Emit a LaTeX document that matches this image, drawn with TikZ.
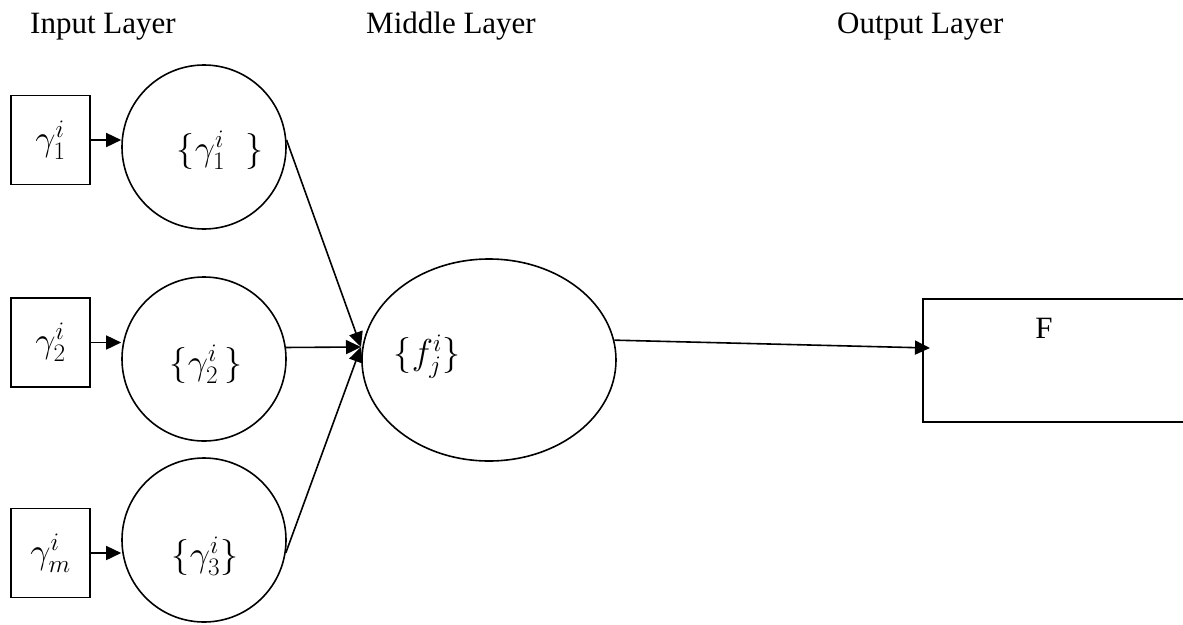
\RequirePackage{fix-cm}
\documentclass[tikz,border=0pt]{standalone}
\usepackage{fontspec}
\setmainfont{Liberation Serif}
\usetikzlibrary{shapes.geometric,arrows.meta}
\begin{document}
\begin{tikzpicture}[x=1pt,y=-1pt,
  every node/.style={font=\fontsize{31}{37}\selectfont, inner sep=0pt},
  mathtext/.style={font=\fontsize{36}{42}\selectfont},
  inbox/.style={draw, line width=1.6pt, minimum width=79pt, minimum height=89pt, mathtext},
  neuron/.style={draw, circle, line width=1.6pt, minimum size=164pt},
  link/.style={line width=1.6pt, -{Triangle[length=15pt,width=14pt]}}]
\useasboundingbox (0,0) rectangle (1183,624);
\clip (0,0) rectangle (1183,624);
% layer titles
\node[anchor=base west] (tin) at (30,33) {Input Layer};
\node[anchor=base west] (tmid) at (366,33) {Middle Layer};
\node[anchor=base west] (tout) at (837,33) {Output Layer};
% input boxes
\node[inbox] (b1) at (50.5,140) {$\gamma^{i}_{1}$};
\node[inbox] (b2) at (50.5,342.5) {$\gamma^{i}_{2}$};
\node[inbox] (b3) at (50.5,553) {$\gamma^{i}_{m}$};
% input neurons
\node[neuron] (c1) at (204,147) {};
\node[neuron] (c2) at (204,359) {};
\node[neuron] (c3) at (204,540) {};
\node[mathtext] (l1) at (220,150) {$\{\gamma^{i}_{1}\hspace{20pt}\}$};
\node[mathtext] (l2) at (206,364) {$\{\gamma^{i}_{2}\,\}$};
\node[mathtext] (l3) at (205,556) {$\{\gamma^{i}_{3}\}$};
% middle
\node[draw, ellipse, line width=1.6pt, minimum width=254pt, minimum height=202pt] (mid) at (489,360) {};
\node[mathtext] (lm) at (427,357) {$\{f^{i}_{j}\}$};
% output
\node[draw, line width=1.6pt, anchor=north west, minimum width=300pt, minimum height=123pt] (out) at (922,298) {};
\node (lf) at (1044,328) {F};
% connectors
\draw[link] (b1.east) -- (b1.east -| c1.west);
\draw[link] (b2.east) -- (b2.east -| c2.west);
\draw[link] (b3.east) -- (b3.east -| c3.west);
\coordinate (m) at (361,347);
\draw[link] (c1.5) -- (m);
\draw[link] (c2.8) -- (m);
\draw[link] (c3.-9) -- (m);
\coordinate (fin) at (930,348);
\draw[link] (mid.9) -- (fin);
\end{tikzpicture}
\end{document}
